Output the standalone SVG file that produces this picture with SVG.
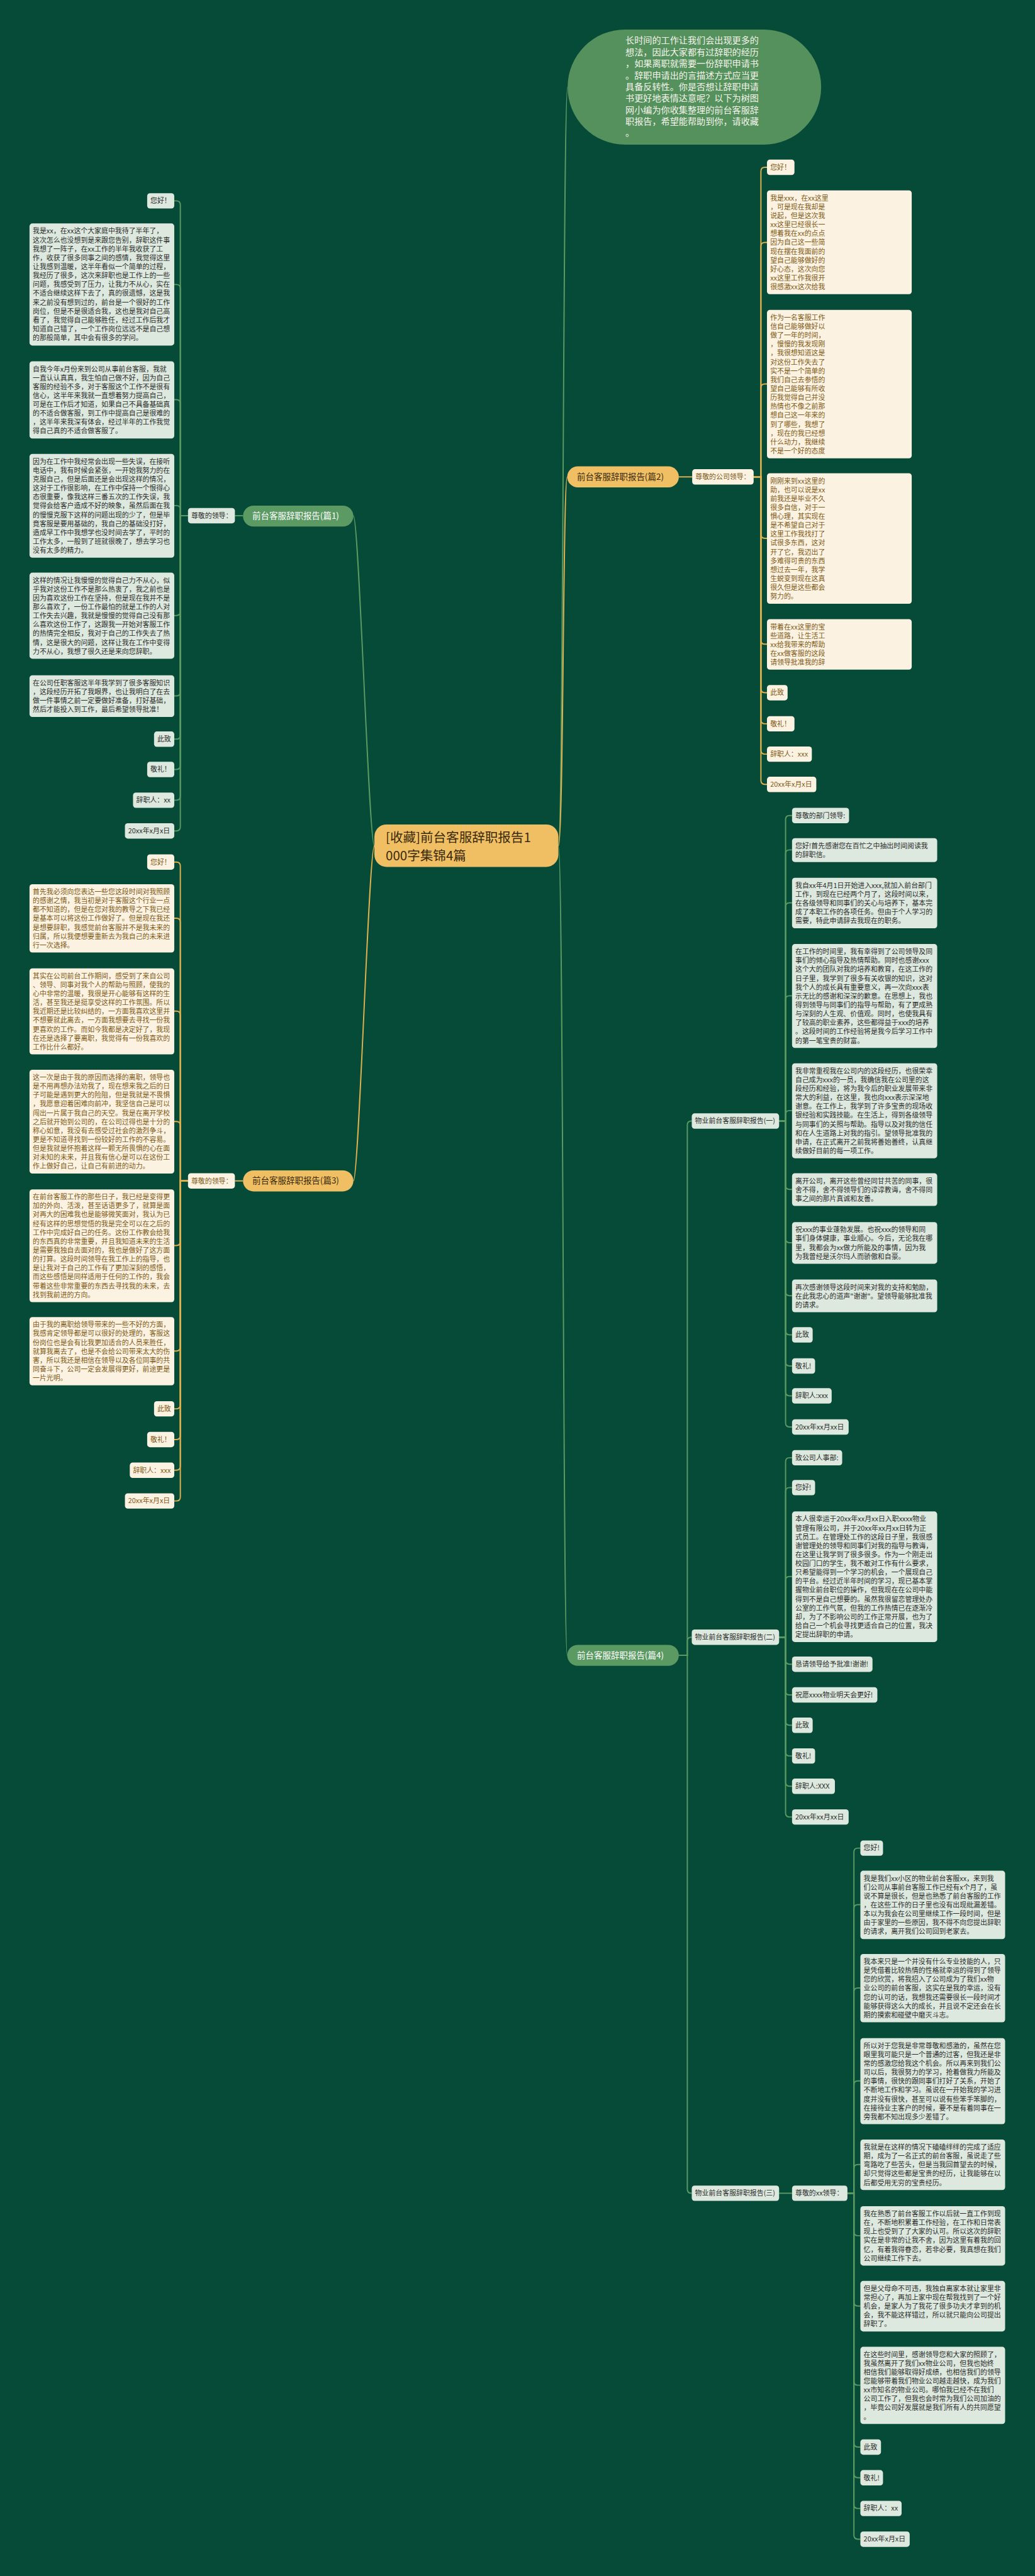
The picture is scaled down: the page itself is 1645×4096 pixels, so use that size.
<svg xmlns="http://www.w3.org/2000/svg" width="1645" height="4096" viewBox="0 0 1645 4096">
<style>
text{font-family:"Noto Sans CJK SC","Noto Sans",sans-serif}
.bg{fill:#064a38}
.bxg{fill:#dde9de}
.bxc{fill:#fcf2e1}
.tg{fill:#2c2c2c;font-size:17px}
.tc{fill:#7c5a16;font-size:17px}
.lg{stroke:#5b9b63;stroke-width:3;fill:none}
.lc{stroke:#e0b24f;stroke-width:3;fill:none}
.mg{fill:#5b9b63}
.mc{fill:#f0bf63}
.tmg{fill:#ffffff;font-size:21px}
.tmc{fill:#3a2a0c;font-size:21px}
</style>
<rect class="bg" x="0" y="0" width="1645" height="4096"/>
<g transform="scale(0.6426)">
<g id="connectors">
<path class="lg" d="M1381 2093 C1394 2093 1392 215 1404 215"/>
<path class="lc" d="M1381 2093 C1394 2093 1392 1180 1403 1180"/>
<path class="lg" d="M1381 2093 C1394 2093 1392 4096 1403 4096"/>
<path class="lg" d="M926 2093 C912 2093 888 1276 874 1276"/>
<path class="lc" d="M926 2093 C912 2093 888 2922 874 2922"/>
<path class="lg" d="M601 1276 H581"/>
<path class="lc" d="M601 2922 H581"/>
<path class="lc" d="M1679 1180 H1712"/>
<path class="lg" d="M1927 2774 H1943"/>
<path class="lg" d="M1927 5427 H1959"/>
<path class="lg" d="M465 1276 H446 V507 Q446 497 436 497 H431"/>
<path class="lg" d="M465 1276 H446 V714 Q446 704 436 704 H431"/>
<path class="lg" d="M465 1276 H446 V999 Q446 989 436 989 H431"/>
<path class="lg" d="M465 1276 H446 V1261 Q446 1251 436 1251 H431"/>
<path class="lg" d="M465 1276 H446 V1513 Q446 1523 436 1523 H431"/>
<path class="lg" d="M465 1276 H446 V1712 Q446 1722 436 1722 H431"/>
<path class="lg" d="M465 1276 H446 V1819 Q446 1829 436 1829 H431"/>
<path class="lg" d="M465 1276 H446 V1894 Q446 1904 436 1904 H431"/>
<path class="lg" d="M465 1276 H446 V1970 Q446 1980 436 1980 H431"/>
<path class="lg" d="M465 1276 H446 V2046 Q446 2056 436 2056 H431"/>
<path class="lc" d="M465 2922 H446 V2143 Q446 2133 436 2133 H431"/>
<path class="lc" d="M465 2922 H446 V2282 Q446 2272 436 2272 H431"/>
<path class="lc" d="M465 2922 H446 V2512 Q446 2502 436 2502 H431"/>
<path class="lc" d="M465 2922 H446 V2785 Q446 2775 436 2775 H431"/>
<path class="lc" d="M465 2922 H446 V3072 Q446 3082 436 3082 H431"/>
<path class="lc" d="M465 2922 H446 V3333 Q446 3343 436 3343 H431"/>
<path class="lc" d="M465 2922 H446 V3476 Q446 3486 436 3486 H431"/>
<path class="lc" d="M465 2922 H446 V3552 Q446 3562 436 3562 H431"/>
<path class="lc" d="M465 2922 H446 V3628 Q446 3638 436 3638 H431"/>
<path class="lc" d="M465 2922 H446 V3704 Q446 3714 436 3714 H431"/>
<path class="lc" d="M1864 1180 H1882 V424 Q1882 414 1892 414 H1897"/>
<path class="lc" d="M1864 1180 H1882 V610 Q1882 600 1892 600 H1897"/>
<path class="lc" d="M1864 1180 H1882 V960 Q1882 950 1892 950 H1897"/>
<path class="lc" d="M1864 1180 H1882 V1322 Q1882 1332 1892 1332 H1897"/>
<path class="lc" d="M1864 1180 H1882 V1584 Q1882 1594 1892 1594 H1897"/>
<path class="lc" d="M1864 1180 H1882 V1704 Q1882 1714 1892 1714 H1897"/>
<path class="lc" d="M1864 1180 H1882 V1781 Q1882 1791 1892 1791 H1897"/>
<path class="lc" d="M1864 1180 H1882 V1856 Q1882 1866 1892 1866 H1897"/>
<path class="lc" d="M1864 1180 H1882 V1931 Q1882 1941 1892 1941 H1897"/>
<path class="lg" d="M1679 4096 H1700 V2784 Q1700 2774 1710 2774 H1711"/>
<path class="lg" d="M1679 4096 H1700 V4061 Q1700 4051 1710 4051 H1711"/>
<path class="lg" d="M1679 4096 H1700 V5417 Q1700 5427 1710 5427 H1711"/>
<path class="lg" d="M1927 2774 H1943 V2028 Q1943 2018 1953 2018 H1959"/>
<path class="lg" d="M1927 2774 H1943 V2113 Q1943 2103 1953 2103 H1959"/>
<path class="lg" d="M1927 2774 H1943 V2244 Q1943 2234 1953 2234 H1959"/>
<path class="lg" d="M1927 2774 H1943 V2474 Q1943 2464 1953 2464 H1959"/>
<path class="lg" d="M1927 2774 H1943 V2758 Q1943 2748 1953 2748 H1959"/>
<path class="lg" d="M1927 2774 H1943 V2933 Q1943 2943 1953 2943 H1959"/>
<path class="lg" d="M1927 2774 H1943 V3065 Q1943 3075 1953 3075 H1959"/>
<path class="lg" d="M1927 2774 H1943 V3196 Q1943 3206 1953 3206 H1959"/>
<path class="lg" d="M1927 2774 H1943 V3293 Q1943 3303 1953 3303 H1959"/>
<path class="lg" d="M1927 2774 H1943 V3370 Q1943 3380 1953 3380 H1959"/>
<path class="lg" d="M1927 2774 H1943 V3444 Q1943 3454 1953 3454 H1959"/>
<path class="lg" d="M1927 2774 H1943 V3521 Q1943 3531 1953 3531 H1959"/>
<path class="lg" d="M1927 4051 H1943 V3617 Q1943 3607 1953 3607 H1959"/>
<path class="lg" d="M1927 4051 H1943 V3691 Q1943 3681 1953 3681 H1959"/>
<path class="lg" d="M1927 4051 H1943 V3911 Q1943 3901 1953 3901 H1959"/>
<path class="lg" d="M1927 4051 H1943 V4108 Q1943 4118 1953 4118 H1959"/>
<path class="lg" d="M1927 4051 H1943 V4184 Q1943 4194 1953 4194 H1959"/>
<path class="lg" d="M1927 4051 H1943 V4259 Q1943 4269 1953 4269 H1959"/>
<path class="lg" d="M1927 4051 H1943 V4335 Q1943 4345 1953 4345 H1959"/>
<path class="lg" d="M1927 4051 H1943 V4410 Q1943 4420 1953 4420 H1959"/>
<path class="lg" d="M1927 4051 H1943 V4486 Q1943 4496 1953 4496 H1959"/>
<path class="lg" d="M2096 5427 H2112 V4583 Q2112 4573 2122 4573 H2128"/>
<path class="lg" d="M2096 5427 H2112 V4723 Q2112 4713 2122 4713 H2128"/>
<path class="lg" d="M2096 5427 H2112 V4929 Q2112 4919 2122 4919 H2128"/>
<path class="lg" d="M2096 5427 H2112 V5159 Q2112 5149 2122 5149 H2128"/>
<path class="lg" d="M2096 5427 H2112 V5366 Q2112 5356 2122 5356 H2128"/>
<path class="lg" d="M2096 5427 H2112 V5522 Q2112 5532 2122 5532 H2128"/>
<path class="lg" d="M2096 5427 H2112 V5696 Q2112 5706 2122 5706 H2128"/>
<path class="lg" d="M2096 5427 H2112 V5892 Q2112 5902 2122 5902 H2128"/>
<path class="lg" d="M2096 5427 H2112 V6045 Q2112 6055 2122 6055 H2128"/>
<path class="lg" d="M2096 5427 H2112 V6121 Q2112 6131 2122 6131 H2128"/>
<path class="lg" d="M2096 5427 H2112 V6197 Q2112 6207 2122 6207 H2128"/>
<path class="lg" d="M2096 5427 H2112 V6273 Q2112 6283 2122 6283 H2128"/>
</g>

<g id="intro">
<rect x="1404" y="73" width="627" height="285" rx="142" fill="#55915d"/>
<text fill="#f4f4ea" font-size="22"><tspan x="1547" y="108">长时间的工作让我们会出现更多的</tspan><tspan x="1547" dy="28.6">想法，因此大家都有过辞职的经历</tspan><tspan x="1547" dy="28.6">，如果离职就需要一份辞职申请书</tspan><tspan x="1547" dy="28.6">。辞职申请出的言描述方式应当更</tspan><tspan x="1547" dy="28.6">具备反转性。你是否想让辞职申请</tspan><tspan x="1547" dy="28.6">书更好地表情达意呢？以下为树图</tspan><tspan x="1547" dy="28.6">网小编为你收集整理的前台客服辞</tspan><tspan x="1547" dy="28.6">职报告，希望能帮助到你，请收藏</tspan><tspan x="1547" dy="28.6">。</tspan></text>
</g>

<g id="center">
<rect x="926" y="2040" width="455" height="105" rx="30" fill="#f0bf63"/>
<text fill="#3a2a0c" font-size="32"><tspan x="954" y="2083">[收藏]前台客服辞职报告1</tspan><tspan x="954" y="2129">000字集锦4篇</tspan></text>
</g>

<g id="p1"><rect class="mg" x="601" y="1251" width="273" height="52" rx="26"/><text class="tmg" x="624" y="1284">前台客服辞职报告(篇1)</text></g>
<g id="p2"><rect class="mc" x="1403" y="1154" width="276" height="52" rx="26"/><text class="tmc" x="1427" y="1187">前台客服辞职报告(篇2)</text></g>
<g id="p3"><rect class="mc" x="601" y="2896" width="273" height="52" rx="26"/><text class="tmc" x="624" y="2929">前台客服辞职报告(篇3)</text></g>
<g id="p4"><rect class="mg" x="1403" y="4070" width="276" height="52" rx="26"/><text class="tmg" x="1427" y="4103">前台客服辞职报告(篇4)</text></g>

<g id="p1-s"><rect class="bxg" x="465" y="1257" width="116" height="38" rx="7"/><text class="tg" x="473" y="1282">尊敬的领导：</text></g>
<g id="p1-1"><rect class="bxg" x="364" y="478" width="67" height="38" rx="7"/><text class="tg" x="372" y="503">您好！</text></g>
<g id="p1-2"><rect class="bxg" x="73" y="553" width="358" height="302" rx="7"/><text class="tg"><tspan x="81" y="578">我是xx，在xx这个大家庭中我待了半年了，</tspan><tspan x="81" dy="22">这次怎么也没想到是来跟您告别，辞职这件事</tspan><tspan x="81" dy="22">我想了一阵子，在xx工作的半年我收获了工</tspan><tspan x="81" dy="22">作，收获了很多同事之间的感情，我觉得这里</tspan><tspan x="81" dy="22">让我感到温暖，这半年看似一个简单的过程，</tspan><tspan x="81" dy="22">我经历了很多，这次来辞职也是工作上的一些</tspan><tspan x="81" dy="22">问题，我感受到了压力，让我力不从心，实在</tspan><tspan x="81" dy="22">不适合继续这样下去了，真的很遗憾，这是我</tspan><tspan x="81" dy="22">来之前没有想到过的，前台是一个很好的工作</tspan><tspan x="81" dy="22">岗位，但是不是很适合我，这也是我对自己高</tspan><tspan x="81" dy="22">看了，我觉得自己能够胜任，经过工作后我才</tspan><tspan x="81" dy="22">知道自己错了，一个工作岗位远远不是自己想</tspan><tspan x="81" dy="22">的那般简单，其中会有很多的学问。</tspan></text></g>
<g id="p1-3"><rect class="bxg" x="73" y="894" width="358" height="191" rx="7"/><text class="tg"><tspan x="81" y="919">自我今年x月份来到公司从事前台客服，我就</tspan><tspan x="81" dy="22">一直认认真真，我生怕自己做不好，因为自己</tspan><tspan x="81" dy="22">客服的经验不多，对于客服这个工作不是很有</tspan><tspan x="81" dy="22">信心，这半年来我就一直想着努力提高自己，</tspan><tspan x="81" dy="22">可是在工作后才知道，如果自己不具备基础真</tspan><tspan x="81" dy="22">的不适合做客服，到工作中提高自己是很难的</tspan><tspan x="81" dy="22">，这半年来我深有体会，经过半年的工作我觉</tspan><tspan x="81" dy="22">得自己真的不适合做客服了。</tspan></text></g>
<g id="p1-4"><rect class="bxg" x="73" y="1123" width="358" height="257" rx="7"/><text class="tg"><tspan x="81" y="1148">因为在工作中我经常会出现一些失误，在接听</tspan><tspan x="81" dy="22">电话中，我有时候会紧张，一开始我努力的在</tspan><tspan x="81" dy="22">克服自己，但是后面还是会出现这样的情况，</tspan><tspan x="81" dy="22">这对于工作很影响，在工作中保持一个恨得心</tspan><tspan x="81" dy="22">态很重要，像我这样三番五次的工作失误，我</tspan><tspan x="81" dy="22">觉得会给客户造成不好的映象，虽然后面在我</tspan><tspan x="81" dy="22">的慢慢克服下这样的问题出现的少了，但是毕</tspan><tspan x="81" dy="22">竟客服是要用基础的，我自己的基础没打好，</tspan><tspan x="81" dy="22">造成早工作中我想学也没时间去学了，平时的</tspan><tspan x="81" dy="22">工作太多，一般到了班就很晚了，想去学习也</tspan><tspan x="81" dy="22">没有太多的精力。</tspan></text></g>
<g id="p1-5"><rect class="bxg" x="73" y="1417" width="358" height="213" rx="7"/><text class="tg"><tspan x="81" y="1442">这样的情况让我慢慢的觉得自己力不从心，似</tspan><tspan x="81" dy="22">乎我对这份工作不是那么热衷了，我之前也是</tspan><tspan x="81" dy="22">因为喜欢这份工作在坚持，但是现在我并不是</tspan><tspan x="81" dy="22">那么喜欢了，一份工作最怕的就是工作的人对</tspan><tspan x="81" dy="22">工作失去兴趣，我就是慢慢的觉得自己没有那</tspan><tspan x="81" dy="22">么喜欢这份工作了，这跟我一开始对客服工作</tspan><tspan x="81" dy="22">的热情完全相反，我对于自己的工作失去了热</tspan><tspan x="81" dy="22">情，这是很大的问题，这样让我在工作中变得</tspan><tspan x="81" dy="22">力不从心，我想了很久还是来向您辞职。</tspan></text></g>
<g id="p1-6"><rect class="bxg" x="73" y="1671" width="358" height="103" rx="7"/><text class="tg"><tspan x="81" y="1696">在公司任职客服这半年我学到了很多客服知识</tspan><tspan x="81" dy="22">，这段经历开拓了我眼界，也让我明白了在去</tspan><tspan x="81" dy="22">做一件事情之前一定要做好准备，打好基础，</tspan><tspan x="81" dy="22">然后才能投入到工作，最后希望领导批准！</tspan></text></g>
<g id="p1-7"><rect class="bxg" x="381" y="1810" width="50" height="38" rx="7"/><text class="tg" x="389" y="1835">此致</text></g>
<g id="p1-8"><rect class="bxg" x="364" y="1885" width="67" height="38" rx="7"/><text class="tg" x="372" y="1910">敬礼！</text></g>
<g id="p1-9"><rect class="bxg" x="329" y="1961" width="102" height="38" rx="7"/><text class="tg" x="337" y="1986">辞职人：xx</text></g>
<g id="p1-10"><rect class="bxg" x="309" y="2037" width="122" height="38" rx="7"/><text class="tg" x="317" y="2062">20xx年x月x日</text></g>

<g id="p3-s"><rect class="bxc" x="465" y="2903" width="116" height="38" rx="7"/><text class="tc" x="473" y="2928">尊敬的领导：</text></g>
<g id="p3-1"><rect class="bxc" x="364" y="2114" width="67" height="38" rx="7"/><text class="tc" x="372" y="2139">您好！</text></g>
<g id="p3-2"><rect class="bxc" x="73" y="2188" width="358" height="169" rx="7"/><text class="tc"><tspan x="81" y="2213">首先我必须向您表达一些您这段时间对我照顾</tspan><tspan x="81" dy="22">的感谢之情，我当初是对于客服这个行业一点</tspan><tspan x="81" dy="22">都不知道的，但是在您对我的教导之下我已经</tspan><tspan x="81" dy="22">是基本可以将这份工作做好了。但是现在我还</tspan><tspan x="81" dy="22">是想要辞职，我感觉前台客服并不是我未来的</tspan><tspan x="81" dy="22">归属，所以我便想要重新去为我自己的未来进</tspan><tspan x="81" dy="22">行一次选择。</tspan></text></g>
<g id="p3-3"><rect class="bxc" x="73" y="2396" width="358" height="213" rx="7"/><text class="tc"><tspan x="81" y="2421">其实在公司前台工作期间，感受到了来自公司</tspan><tspan x="81" dy="22">、领导、同事对我个人的帮助与照顾，使我的</tspan><tspan x="81" dy="22">心中非常的温暖，我很是开心能够有这样的生</tspan><tspan x="81" dy="22">活，甚至我还是挺享受这样的工作氛围。所以</tspan><tspan x="81" dy="22">我近期还是比较纠结的，一方面我喜欢这里并</tspan><tspan x="81" dy="22">不想要就此离去，一方面我想要去寻找一份我</tspan><tspan x="81" dy="22">更喜欢的工作。而如今我都是决定好了，我现</tspan><tspan x="81" dy="22">在还是选择了要离职，我觉得有一份我喜欢的</tspan><tspan x="81" dy="22">工作比什么都好。</tspan></text></g>
<g id="p3-4"><rect class="bxc" x="73" y="2647" width="358" height="257" rx="7"/><text class="tc"><tspan x="81" y="2672">这一次是由于我的原因而选择的离职，领导也</tspan><tspan x="81" dy="22">是不用再想办法劝我了，现在想来我之后的日</tspan><tspan x="81" dy="22">子可能是遇到更大的险阻，但是我就是不畏惧</tspan><tspan x="81" dy="22">，我愿意迎着困难向前冲，我坚信自己是可以</tspan><tspan x="81" dy="22">闯出一片属于我自己的天空。我是在离开学校</tspan><tspan x="81" dy="22">之后就开始到公司的，在公司过得也是十分的</tspan><tspan x="81" dy="22">称心如意，我没有去感受过社会的激烈争斗，</tspan><tspan x="81" dy="22">更是不知道寻找到一份较好的工作的不容易。</tspan><tspan x="81" dy="22">但是我就是怀抱着这样一颗无所畏惧的心在面</tspan><tspan x="81" dy="22">对未知的未来，并且我有信心是可以在这份工</tspan><tspan x="81" dy="22">作上做好自己，让自己有前进的动力。</tspan></text></g>
<g id="p3-5"><rect class="bxc" x="73" y="2943" width="358" height="279" rx="7"/><text class="tc"><tspan x="81" y="2968">在前台客服工作的那些日子，我已经是变得更</tspan><tspan x="81" dy="22">加的外向、活泼，甚至话语更多了，就算是面</tspan><tspan x="81" dy="22">对再大的困难我也是能够微笑面对，我认为已</tspan><tspan x="81" dy="22">经有这样的思想觉悟的我是完全可以在之后的</tspan><tspan x="81" dy="22">工作中完成好自己的任务。这份工作教会给我</tspan><tspan x="81" dy="22">的东西真的非常重要，并且我知道未来的生活</tspan><tspan x="81" dy="22">是需要我独自去面对的，我也是做好了这方面</tspan><tspan x="81" dy="22">的打算。这段时间领导在我工作上的指导，也</tspan><tspan x="81" dy="22">是让我对于自己的工作有了更加深刻的感悟，</tspan><tspan x="81" dy="22">而这些感悟是同样适用于任何的工作的，我会</tspan><tspan x="81" dy="22">带着这些非常重要的东西去寻找我的未来，去</tspan><tspan x="81" dy="22">找到我前进的方向。</tspan></text></g>
<g id="p3-6"><rect class="bxc" x="73" y="3259" width="358" height="169" rx="7"/><text class="tc"><tspan x="81" y="3284">由于我的离职给领导带来的一些不好的方面，</tspan><tspan x="81" dy="22">我感肯定领导都是可以很好的处理的，客服这</tspan><tspan x="81" dy="22">份岗位也是会有比我更加适合的人员来胜任，</tspan><tspan x="81" dy="22">就算我离去了，也是不会给公司带来太大的伤</tspan><tspan x="81" dy="22">害，所以我还是相信在领导以及各位同事的共</tspan><tspan x="81" dy="22">同奋斗下，公司一定会发展得更好，前途更是</tspan><tspan x="81" dy="22">一片光明。</tspan></text></g>
<g id="p3-7"><rect class="bxc" x="381" y="3467" width="50" height="38" rx="7"/><text class="tc" x="389" y="3492">此致</text></g>
<g id="p3-8"><rect class="bxc" x="364" y="3543" width="67" height="38" rx="7"/><text class="tc" x="372" y="3568">敬礼！</text></g>
<g id="p3-9"><rect class="bxc" x="321" y="3619" width="110" height="38" rx="7"/><text class="tc" x="329" y="3644">辞职人：xxx</text></g>
<g id="p3-10"><rect class="bxc" x="309" y="3695" width="122" height="38" rx="7"/><text class="tc" x="317" y="3720">20xx年x月x日</text></g>

<g id="p2-s"><rect class="bxc" x="1712" y="1161" width="152" height="38" rx="7"/><text class="tc" x="1720" y="1186">尊敬的公司领导：</text></g>
<g id="p2-1"><rect class="bxc" x="1897" y="395" width="68" height="38" rx="7"/><text class="tc" x="1905" y="420">您好！</text></g>
<g id="p2-2"><rect class="bxc" x="1897" y="471" width="358" height="257" rx="7"/><text class="tc"><tspan x="1905" y="496">我是xxx，在xx这里</tspan><tspan x="1905" dy="22">，可是现在我却是</tspan><tspan x="1905" dy="22">说起，但是这次我</tspan><tspan x="1905" dy="22">xx这里已经很长一</tspan><tspan x="1905" dy="22">想着我在xx的点点</tspan><tspan x="1905" dy="22">因为自己这一些简</tspan><tspan x="1905" dy="22">现在摆在我面前的</tspan><tspan x="1905" dy="22">望自己能够做好的</tspan><tspan x="1905" dy="22">好心态，这次向您</tspan><tspan x="1905" dy="22">xx这里工作我很开</tspan><tspan x="1905" dy="22">很感激xx这次给我</tspan></text></g>
<g id="p2-3"><rect class="bxc" x="1897" y="767" width="358" height="367" rx="7"/><text class="tc"><tspan x="1905" y="792">作为一名客服工作</tspan><tspan x="1905" dy="22">信自己能够做好以</tspan><tspan x="1905" dy="22">做了一年的时间，</tspan><tspan x="1905" dy="22">，慢慢的我发现刚</tspan><tspan x="1905" dy="22">，我很想知道这是</tspan><tspan x="1905" dy="22">对这份工作失去了</tspan><tspan x="1905" dy="22">实不是一个简单的</tspan><tspan x="1905" dy="22">我们自己去参悟的</tspan><tspan x="1905" dy="22">望自己能够有所收</tspan><tspan x="1905" dy="22">历我觉得自己并没</tspan><tspan x="1905" dy="22">热情也不像之前那</tspan><tspan x="1905" dy="22">想自己这一年来的</tspan><tspan x="1905" dy="22">到了哪些，我想了</tspan><tspan x="1905" dy="22">，现在的我已经想</tspan><tspan x="1905" dy="22">什么动力，我继续</tspan><tspan x="1905" dy="22">不是一个好的态度</tspan></text></g>
<g id="p2-4"><rect class="bxc" x="1897" y="1171" width="358" height="323" rx="7"/><text class="tc"><tspan x="1905" y="1196">刚刚来到xx这里的</tspan><tspan x="1905" dy="22">助，也可以说是xx</tspan><tspan x="1905" dy="22">前我还是毕业不久</tspan><tspan x="1905" dy="22">很多自信，对于一</tspan><tspan x="1905" dy="22">惧心理，其实现在</tspan><tspan x="1905" dy="22">是不希望自己对于</tspan><tspan x="1905" dy="22">这里工作我找打了</tspan><tspan x="1905" dy="22">试很多东西，这对</tspan><tspan x="1905" dy="22">开了它，我迈出了</tspan><tspan x="1905" dy="22">多难得可贵的东西</tspan><tspan x="1905" dy="22">想过去一年，我学</tspan><tspan x="1905" dy="22">生蜕变到现在这真</tspan><tspan x="1905" dy="22">很久但是这些都会</tspan><tspan x="1905" dy="22">努力的。</tspan></text></g>
<g id="p2-5"><rect class="bxc" x="1897" y="1532" width="358" height="125" rx="7"/><text class="tc"><tspan x="1905" y="1557">带着在xx这里的宝</tspan><tspan x="1905" dy="22">些道路，让生活工</tspan><tspan x="1905" dy="22">xx给我带来的帮助</tspan><tspan x="1905" dy="22">在xx做客服的这段</tspan><tspan x="1905" dy="22">请领导批准我的辞</tspan></text></g>
<g id="p2-6"><rect class="bxc" x="1897" y="1695" width="51" height="38" rx="7"/><text class="tc" x="1905" y="1720">此致</text></g>
<g id="p2-7"><rect class="bxc" x="1897" y="1772" width="68" height="38" rx="7"/><text class="tc" x="1905" y="1797">敬礼！</text></g>
<g id="p2-8"><rect class="bxc" x="1897" y="1847" width="111" height="38" rx="7"/><text class="tc" x="1905" y="1872">辞职人：xxx</text></g>
<g id="p2-9"><rect class="bxc" x="1897" y="1922" width="122" height="38" rx="7"/><text class="tc" x="1905" y="1947">20xx年x月x日</text></g>

<g id="p4-a"><rect class="bxg" x="1711" y="2755" width="216" height="38" rx="7"/><text class="tg" x="1719" y="2780">物业前台客服辞职报告(一)</text></g>
<g id="p4-b"><rect class="bxg" x="1711" y="4032" width="216" height="38" rx="7"/><text class="tg" x="1719" y="4057">物业前台客服辞职报告(二)</text></g>
<g id="p4-c"><rect class="bxg" x="1711" y="5408" width="216" height="38" rx="7"/><text class="tg" x="1719" y="5433">物业前台客服辞职报告(三)</text></g>
<g id="p4-cs"><rect class="bxg" x="1959" y="5408" width="137" height="38" rx="7"/><text class="tg" x="1967" y="5433">尊敬的xx领导：</text></g>

<g id="a1"><rect class="bxg" x="1959" y="1999" width="141" height="38" rx="7"/><text class="tg" x="1967" y="2024">尊敬的部门领导:</text></g>
<g id="a2"><rect class="bxg" x="1959" y="2074" width="359" height="59" rx="7"/><text class="tg"><tspan x="1967" y="2099">您好!首先感谢您在百忙之中抽出时间阅读我</tspan><tspan x="1967" dy="22">的辞职信。</tspan></text></g>
<g id="a3"><rect class="bxg" x="1959" y="2172" width="359" height="125" rx="7"/><text class="tg"><tspan x="1967" y="2197">我自xx年4月1日开始进入xxx,就加入前台部门</tspan><tspan x="1967" dy="22">工作，到现在已经两个月了，这段时间以来，</tspan><tspan x="1967" dy="22">在各级领导和同事们的关心与培养下，基本完</tspan><tspan x="1967" dy="22">成了本职工作的各项任务。但由于个人学习的</tspan><tspan x="1967" dy="22">需要，特此申请辞去我现在的职务。</tspan></text></g>
<g id="a4"><rect class="bxg" x="1959" y="2336" width="359" height="257" rx="7"/><text class="tg"><tspan x="1967" y="2361">在工作的时间里，我有幸得到了公司领导及同</tspan><tspan x="1967" dy="22">事们的倾心指导及热情帮助。同时也感谢xxx</tspan><tspan x="1967" dy="22">这个大的团队对我的培养和教育，在这工作的</tspan><tspan x="1967" dy="22">日子里，我学到了很多有关收银的知识，这对</tspan><tspan x="1967" dy="22">我个人的成长具有重要意义，再一次向xxx表</tspan><tspan x="1967" dy="22">示无比的感谢和深深的歉意。在思想上，我也</tspan><tspan x="1967" dy="22">得到领导与同事们的指导与帮助，有了更成熟</tspan><tspan x="1967" dy="22">与深刻的人生观、价值观。同时，也使我具有</tspan><tspan x="1967" dy="22">了较高的职业素养，这些都得益于xxx的培养</tspan><tspan x="1967" dy="22">。这段时间的工作经验将是我今后学习工作中</tspan><tspan x="1967" dy="22">的第一笔宝贵的财富。</tspan></text></g>
<g id="a5"><rect class="bxg" x="1959" y="2631" width="359" height="235" rx="7"/><text class="tg"><tspan x="1967" y="2656">我非常重视我在公司内的这段经历，也很荣幸</tspan><tspan x="1967" dy="22">自己成为xxx的一员，我确信我在公司里的这</tspan><tspan x="1967" dy="22">段经历和经验，将为我今后的职业发展带来非</tspan><tspan x="1967" dy="22">常大的利益，在这里，我也向xxx表示深深地</tspan><tspan x="1967" dy="22">谢意。在工作上，我学到了许多宝贵的现场收</tspan><tspan x="1967" dy="22">银经验和实践技能。在生活上，得到各级领导</tspan><tspan x="1967" dy="22">与同事们的关照与帮助。指导以及对我的信任</tspan><tspan x="1967" dy="22">和在人生道路上对我的指引。望领导批准我的</tspan><tspan x="1967" dy="22">申请，在正式离开之前我将善始善终，认真继</tspan><tspan x="1967" dy="22">续做好目前的每一项工作。</tspan></text></g>
<g id="a6"><rect class="bxg" x="1959" y="2903" width="359" height="81" rx="7"/><text class="tg"><tspan x="1967" y="2928">离开公司，离开这些曾经同甘共苦的同事，很</tspan><tspan x="1967" dy="22">舍不得，舍不得领导们的谆谆教诲，舍不得同</tspan><tspan x="1967" dy="22">事之间的那片真诚和友善。</tspan></text></g>
<g id="a7"><rect class="bxg" x="1959" y="3024" width="359" height="103" rx="7"/><text class="tg"><tspan x="1967" y="3049">祝xxx的事业蓬勃发展。也祝xxx的领导和同</tspan><tspan x="1967" dy="22">事们身体健康，事业顺心。今后，无论我在哪</tspan><tspan x="1967" dy="22">里，我都会为xx做力所能及的事情，因为我</tspan><tspan x="1967" dy="22">为我曾经是沃尔玛人而骄傲和自豪。</tspan></text></g>
<g id="a8"><rect class="bxg" x="1959" y="3166" width="359" height="81" rx="7"/><text class="tg"><tspan x="1967" y="3191">再次感谢领导这段时间来对我的支持和勉励，</tspan><tspan x="1967" dy="22">在此我忠心的道声"谢谢"。望领导能够批准我</tspan><tspan x="1967" dy="22">的请求。</tspan></text></g>
<g id="a9"><rect class="bxg" x="1959" y="3284" width="51" height="38" rx="7"/><text class="tg" x="1967" y="3309">此致</text></g>
<g id="a10"><rect class="bxg" x="1959" y="3361" width="57" height="38" rx="7"/><text class="tg" x="1967" y="3386">敬礼!</text></g>
<g id="a11"><rect class="bxg" x="1959" y="3435" width="98" height="38" rx="7"/><text class="tg" x="1967" y="3460">辞职人:xxx</text></g>
<g id="a12"><rect class="bxg" x="1959" y="3512" width="140" height="38" rx="7"/><text class="tg" x="1967" y="3537">20xx年xx月xx日</text></g>

<g id="b1"><rect class="bxg" x="1959" y="3588" width="124" height="38" rx="7"/><text class="tg" x="1967" y="3613">致公司人事部:</text></g>
<g id="b2"><rect class="bxg" x="1959" y="3662" width="57" height="38" rx="7"/><text class="tg" x="1967" y="3687">您好!</text></g>
<g id="b3"><rect class="bxg" x="1959" y="3740" width="359" height="323" rx="7"/><text class="tg"><tspan x="1967" y="3765">本人很幸运于20xx年xx月xx日入职xxxx物业</tspan><tspan x="1967" dy="22">管理有限公司，并于20xx年xx月xx日转为正</tspan><tspan x="1967" dy="22">式员工。在管理处工作的这段日子里，我很感</tspan><tspan x="1967" dy="22">谢管理处的领导和同事们对我的指导与教诲，</tspan><tspan x="1967" dy="22">在这里让我学到了很多很多。作为一个刚走出</tspan><tspan x="1967" dy="22">校园门口的学生，我不敢对工作有什么要求，</tspan><tspan x="1967" dy="22">只希望能得到一个学习的机会，一个展现自己</tspan><tspan x="1967" dy="22">的平台。经过近半年时间的学习，现已基本掌</tspan><tspan x="1967" dy="22">握物业前台职位的操作，但我现在在公司中能</tspan><tspan x="1967" dy="22">得到不是自己想要的。虽然我很留恋管理处办</tspan><tspan x="1967" dy="22">公室的工作气氛，但我的工作热情已在逐渐冷</tspan><tspan x="1967" dy="22">却，为了不影响公司的工作正常开展，也为了</tspan><tspan x="1967" dy="22">给自己一个机会寻找更适合自己的位置，我决</tspan><tspan x="1967" dy="22">定提出辞职的申请。</tspan></text></g>
<g id="b4"><rect class="bxg" x="1959" y="4099" width="199" height="38" rx="7"/><text class="tg" x="1967" y="4124">恳请领导给予批准!谢谢!</text></g>
<g id="b5"><rect class="bxg" x="1959" y="4175" width="211" height="38" rx="7"/><text class="tg" x="1967" y="4200">祝愿xxxx物业明天会更好!</text></g>
<g id="b6"><rect class="bxg" x="1959" y="4250" width="51" height="38" rx="7"/><text class="tg" x="1967" y="4275">此致</text></g>
<g id="b7"><rect class="bxg" x="1959" y="4326" width="57" height="38" rx="7"/><text class="tg" x="1967" y="4351">敬礼!</text></g>
<g id="b8"><rect class="bxg" x="1959" y="4401" width="106" height="38" rx="7"/><text class="tg" x="1967" y="4426">辞职人:XXX</text></g>
<g id="b9"><rect class="bxg" x="1959" y="4477" width="140" height="38" rx="7"/><text class="tg" x="1967" y="4502">20xx年xx月xx日</text></g>

<g id="c1"><rect class="bxg" x="2128" y="4554" width="56" height="38" rx="7"/><text class="tg" x="2136" y="4579">您好!</text></g>
<g id="c2"><rect class="bxg" x="2128" y="4629" width="358" height="169" rx="7"/><text class="tg"><tspan x="2136" y="4654">我是我们xx小区的物业前台客服xx，来到我</tspan><tspan x="2136" dy="22">们公司从事前台客服工作已经有x个月了，虽</tspan><tspan x="2136" dy="22">说不算是很长，但是也熟悉了前台客服的工作</tspan><tspan x="2136" dy="22">，在这些工作的日子里也没有出现纰漏差错。</tspan><tspan x="2136" dy="22">本以为我会在公司里继续工作一段时间，但是</tspan><tspan x="2136" dy="22">由于家里的一些原因，我不得不向您提出辞职</tspan><tspan x="2136" dy="22">的请求，离开我们公司回到老家去。</tspan></text></g>
<g id="c3"><rect class="bxg" x="2128" y="4835" width="358" height="169" rx="7"/><text class="tg"><tspan x="2136" y="4860">我本来只是一个并没有什么专业技能的人，只</tspan><tspan x="2136" dy="22">是凭借着比较热情的性格就幸运的得到了领导</tspan><tspan x="2136" dy="22">您的欣赏，将我招入了公司成为了我们xx物</tspan><tspan x="2136" dy="22">业公司的前台客服，这实在是我的幸运，没有</tspan><tspan x="2136" dy="22">您的认可的话，我想我还需要很长一段时间才</tspan><tspan x="2136" dy="22">能够获得这么大的成长，并且说不定还会在长</tspan><tspan x="2136" dy="22">期的摸索和碰壁中磨灭斗志。</tspan></text></g>
<g id="c4"><rect class="bxg" x="2128" y="5043" width="358" height="213" rx="7"/><text class="tg"><tspan x="2136" y="5068">所以对于您我是非常尊敬和感激的，虽然在您</tspan><tspan x="2136" dy="22">眼里我可能只是一个普通的过客，但我还是非</tspan><tspan x="2136" dy="22">常的感激您给我这个机会。所以再来到我们公</tspan><tspan x="2136" dy="22">司以后，我很努力的学习，抢着做我力所能及</tspan><tspan x="2136" dy="22">的事情，很快的跟同事们打好了关系，开始了</tspan><tspan x="2136" dy="22">不断地工作和学习。虽说在一开始我的学习进</tspan><tspan x="2136" dy="22">度并没有很快，甚至可以说有些笨手笨脚的，</tspan><tspan x="2136" dy="22">在接待业主客户的时候，要不是有着同事在一</tspan><tspan x="2136" dy="22">旁我都不知出现多少差错了。</tspan></text></g>
<g id="c5"><rect class="bxg" x="2128" y="5294" width="358" height="125" rx="7"/><text class="tg"><tspan x="2136" y="5319">我就是在这样的情况下磕磕绊绊的完成了适应</tspan><tspan x="2136" dy="22">期，成为了一名正式的前台客服，虽说走了些</tspan><tspan x="2136" dy="22">弯路吃了些苦头，但是当我回首望去的时候，</tspan><tspan x="2136" dy="22">却只觉得这些都是宝贵的经历，让我能够在以</tspan><tspan x="2136" dy="22">后都受用无穷的宝贵经历。</tspan></text></g>
<g id="c6"><rect class="bxg" x="2128" y="5459" width="358" height="147" rx="7"/><text class="tg"><tspan x="2136" y="5484">我在熟悉了前台客服工作以后就一直工作到现</tspan><tspan x="2136" dy="22">在，不断地积累着工作经验，在工作和日常表</tspan><tspan x="2136" dy="22">现上也受到了了大家的认可。所以这次的辞职</tspan><tspan x="2136" dy="22">实在是非常的让我不舍，因为这里有着我的回</tspan><tspan x="2136" dy="22">忆，有着我得眷恋，若非必要，我真想在我们</tspan><tspan x="2136" dy="22">公司继续工作下去。</tspan></text></g>
<g id="c7"><rect class="bxg" x="2128" y="5644" width="358" height="125" rx="7"/><text class="tg"><tspan x="2136" y="5669">但是父母命不可违，我独自离家本就让家里非</tspan><tspan x="2136" dy="22">常担心了，再加上家中现在帮我找到了一个好</tspan><tspan x="2136" dy="22">机会，是家人为了我花了很多功夫才拿到的机</tspan><tspan x="2136" dy="22">会，我不能这样错过，所以就只能向公司提出</tspan><tspan x="2136" dy="22">辞职了。</tspan></text></g>
<g id="c8"><rect class="bxg" x="2128" y="5807" width="358" height="191" rx="7"/><text class="tg"><tspan x="2136" y="5832">在这些时间里，感谢领导您和大家的照顾了，</tspan><tspan x="2136" dy="22">我虽然离开了我们xx物业公司，但我也始终</tspan><tspan x="2136" dy="22">相信我们能够取得好成绩，也相信我们的领导</tspan><tspan x="2136" dy="22">您能够带着我们物业公司越走越快，成为我们</tspan><tspan x="2136" dy="22">xx市知名的物业公司。哪怕我已经不在我们</tspan><tspan x="2136" dy="22">公司工作了，但我也会时常为我们公司加油的</tspan><tspan x="2136" dy="22">，毕竟公司好发展就是我们所有人的共同愿望</tspan><tspan x="2136" dy="22">。</tspan></text></g>
<g id="c9"><rect class="bxg" x="2128" y="6036" width="51" height="38" rx="7"/><text class="tg" x="2136" y="6061">此致</text></g>
<g id="c10"><rect class="bxg" x="2128" y="6112" width="56" height="38" rx="7"/><text class="tg" x="2136" y="6137">敬礼!</text></g>
<g id="c11"><rect class="bxg" x="2128" y="6188" width="102" height="38" rx="7"/><text class="tg" x="2136" y="6213">辞职人：xx</text></g>
<g id="c12"><rect class="bxg" x="2128" y="6264" width="122" height="38" rx="7"/><text class="tg" x="2136" y="6289">20xx年x月x日</text></g>
</g>
</svg>
